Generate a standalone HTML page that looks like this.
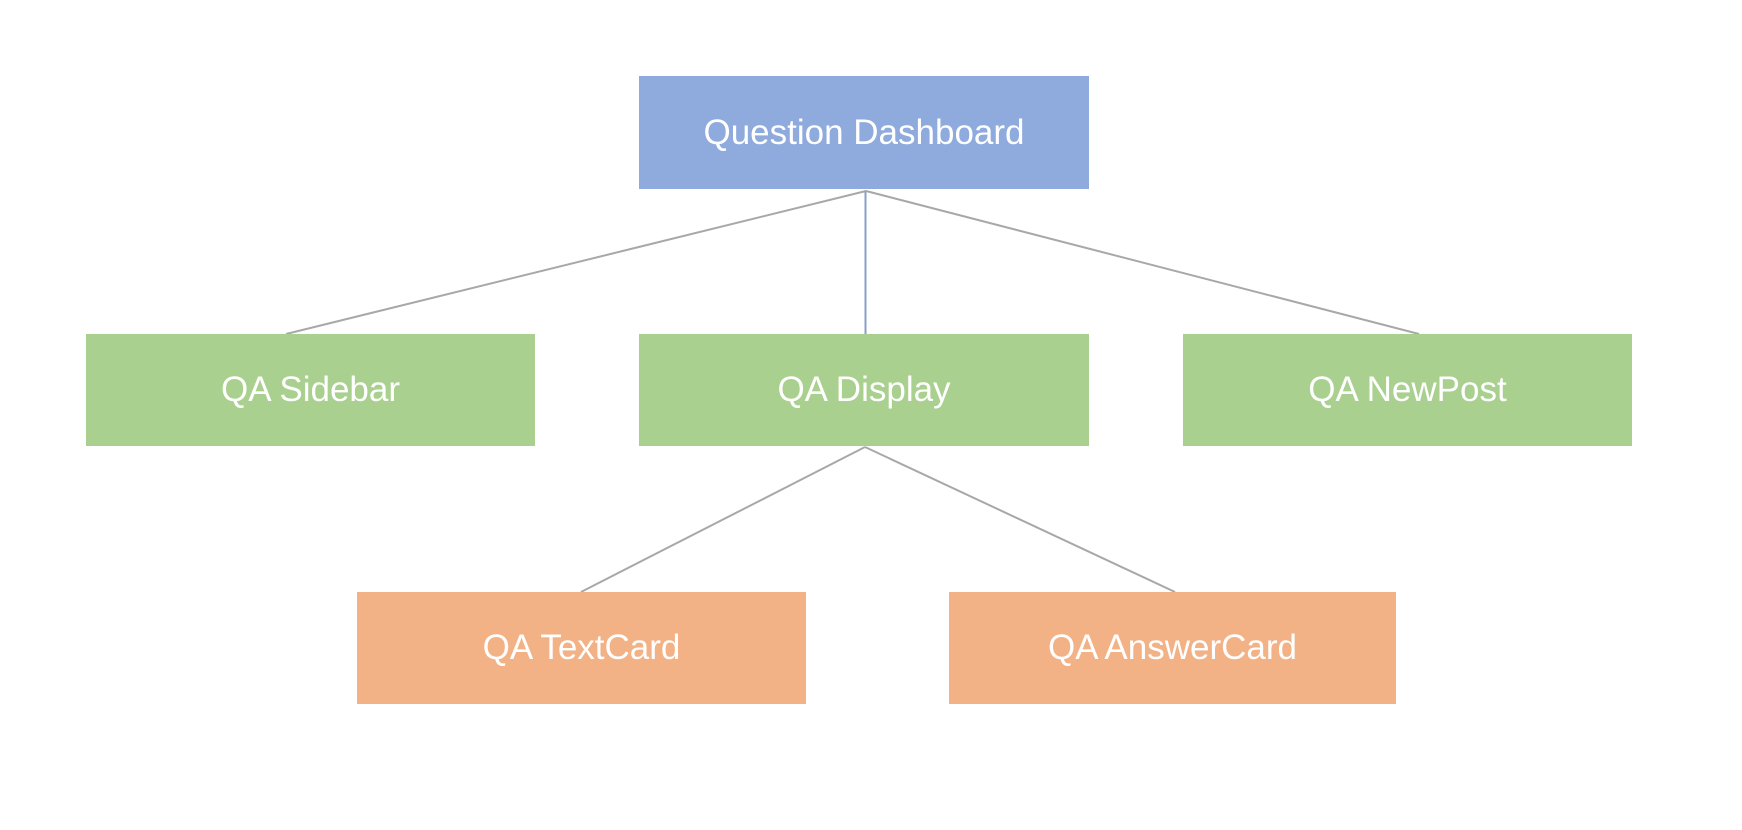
<!DOCTYPE html>
<html><head><meta charset="utf-8"><style>
html,body{margin:0;padding:0;background:#fff;}
body{width:1742px;height:830px;position:relative;overflow:hidden;font-family:"Liberation Sans",sans-serif;}
.b{position:absolute;display:flex;align-items:center;justify-content:center;color:#fff;font-size:35px;}
svg{position:absolute;left:0;top:0;}
</style></head><body>
<svg width="1742" height="830">
<g stroke="#a8a8a8" stroke-width="2" fill="none">
<line x1="866" y1="191" x2="286" y2="334"/>
<line x1="866" y1="191" x2="1419" y2="334"/>
<line x1="865" y1="447" x2="581" y2="592"/>
<line x1="865" y1="447" x2="1175" y2="592"/>
</g>
<line x1="865.5" y1="191" x2="865.5" y2="334" stroke="#8a9fc8" stroke-width="2"/>
</svg>
<div class="b" style="left:639px;top:76px;width:450px;height:113px;background:#8faadc;">Question Dashboard</div>
<div class="b" style="left:86px;top:334px;width:449px;height:112px;background:#a9d08e;">QA Sidebar</div>
<div class="b" style="left:639px;top:334px;width:450px;height:112px;background:#a9d08e;">QA Display</div>
<div class="b" style="left:1183px;top:334px;width:449px;height:112px;background:#a9d08e;">QA NewPost</div>
<div class="b" style="left:357px;top:592px;width:449px;height:112px;background:#f3b186;">QA TextCard</div>
<div class="b" style="left:949px;top:592px;width:447px;height:112px;background:#f3b186;">QA AnswerCard</div>
</body></html>
